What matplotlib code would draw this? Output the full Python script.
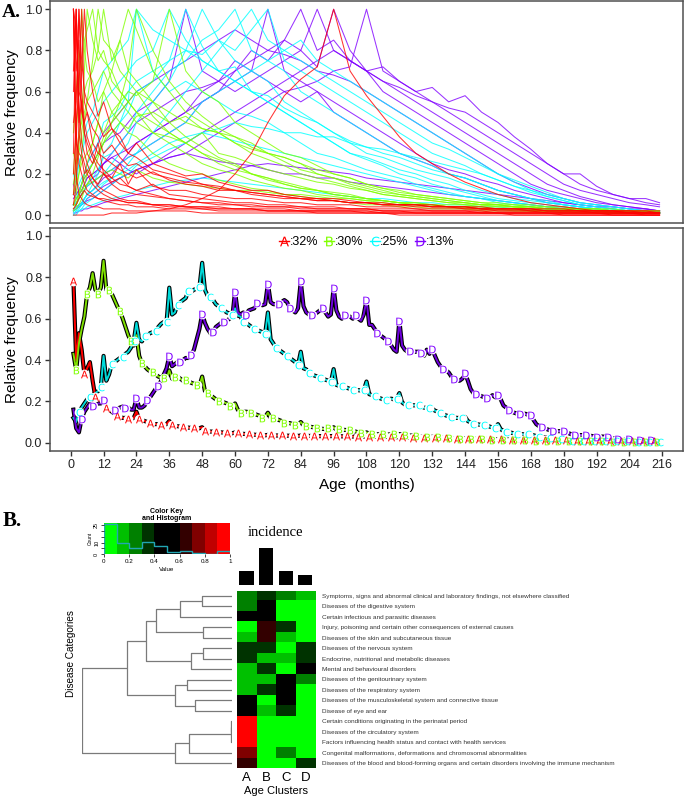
import numpy as np
import matplotlib
matplotlib.use("Agg")
import matplotlib.pyplot as plt
from matplotlib.colors import ListedColormap, BoundaryNorm
from matplotlib.lines import Line2D

plt.rcParams['font.family'] = ['Liberation Sans', 'DejaVu Sans']

W, H = 685, 797

# ---------------- Panel A (bottom): cluster mean curves, month 1..215, values in %
MEAN_A = [78, 40, 53, 45, 33, 36, 39, 30, 22, 21, 20, 21,
          17, 16, 15, 14, 13, 12.5, 12, 12, 11.5, 11.5, 12, 15,
          11.5, 11, 10.5, 10, 9.5, 9, 9, 9, 8.8, 8.8, 9, 10.5,
          8.5, 8.2, 8, 7.8, 7.5, 7.4, 7.3, 7.2, 7.2, 7, 7, 7.5,
          5.6, 5.5, 5.4, 5.4, 5.3, 5.1, 5, 4.9, 4.8, 4.7, 4.6, 5,
          4.5, 4.4, 4.3, 4.2, 4, 4, 3.9, 3.8, 3.7, 3.7, 3.6, 3.8,
          3.6, 3.6, 3.5, 3.5, 3.5, 3.5, 3.4, 3.4, 3.4, 3.4, 3.3, 3.5,
          3.3, 3.3, 3.3, 3.3, 3.2, 3.2, 3.2, 3.2, 3.2, 3.2, 3.2, 3.3,
          3.2, 3.2, 3.1, 3.1, 3.1, 3.1, 3, 3, 3, 3, 3, 3,
          3, 2.9, 2.9, 2.9, 2.9, 2.8, 2.8, 2.8, 2.8, 2.7, 2.7, 2.7,
          2.6, 2.6, 2.6, 2.5, 2.5, 2.5, 2.4, 2.4, 2.4, 2.3, 2.3, 2.3,
          2.2, 2.2, 2.2, 2.1, 2.1, 2.1, 2, 2, 2, 2, 2, 2,
          1.9, 1.9, 1.9, 1.9, 1.8, 1.8, 1.8, 1.8, 1.7, 1.7, 1.7, 1.7,
          1.6, 1.6, 1.6, 1.6, 1.5, 1.5, 1.5, 1.5, 1.4, 1.4, 1.4, 1.4,
          1.3, 1.3, 1.3, 1.3, 1.2, 1.2, 1.2, 1.2, 1.1, 1.1, 1.1, 1.1,
          1.1, 1, 1, 1, 1, 1, 1, 1, .9, .9, .9, .9,
          .9, .9, .8, .8, .8, .8, .8, .8, .8, .7, .7, .7,
          .7, .7, .7, .7, .6, .6, .6, .6, .6, .6, .6]
MEAN_B = [43, 35, 48, 55, 61, 72, 75, 82, 74, 72, 75, 88,
          74, 74, 72, 69, 66, 63.5, 60, 56, 52, 49, 47, 52,
          42, 38.5, 37, 35.5, 34.5, 34, 33, 32, 31.5, 31.5, 31, 35,
          31, 32, 32, 31, 30, 30.5, 30, 29, 28.5, 28, 27.5, 32,
          25, 24, 23, 22, 21, 20, 20, 19.5, 19, 17.6, 18, 19,
          16, 14.4, 15, 15, 14.8, 14.4, 14, 13.5, 13, 12, 12.5, 14.5,
          12, 12, 11.5, 11, 10.5, 9.6, 9.5, 9.5, 9, 8.8, 8.8, 10,
          8.5, 8, 7.8, 7.6, 7.4, 6.9, 6.8, 6.7, 6.6, 6.9, 6.6, 7.5,
          6.4, 6.4, 6.3, 6.2, 6.1, 6, 5.6, 5.4, 5, 4.8, 4.6, 5,
          4.4, 4.3, 4.2, 4.1, 4, 4, 4, 4, 4, 4, 4, 4.2,
          3.8, 3.7, 3.6, 3.5, 3.4, 3.2, 3, 2.9, 2.8, 2.7, 2.8, 2.9,
          2.9, 2.9, 2.7, 2.6, 2.5, 2.4, 2.3, 2.2, 2.1, 2, 2, 2.1,
          1.9, 1.8, 1.8, 1.7, 1.7, 1.6, 1.6, 1.5, 1.5, 1.5, 1.4, 1.5,
          1.4, 1.4, 1.3, 1.3, 1.3, 1.2, 1.2, 1.2, 1.1, 1.1, 1.1, 1.1,
          1, 1, 1, 1, 1, .9, .9, .9, .9, .9, .8, .8,
          .8, .8, .8, .8, .7, .7, .7, .7, .7, .7, .6, .6,
          .6, .6, .6, .6, .6, .5, .5, .5, .5, .5, .5, .5,
          .5, .5, .4, .4, .4, .4, .4, .4, .4, .4, .4]
MEAN_C = [12, 10, 15, 17, 19, 21, 22, 23, 24, 25, 27, 42,
          30, 33, 38, 39, 40, 41, 41.6, 43, 44, 46, 49, 58,
          50, 49, 51.7, 52, 53, 53.5, 54, 56, 57.5, 58.4, 58.4, 75,
          62, 63, 66.7, 68, 69, 70, 73.6, 73, 74, 74.5, 75.2, 87,
          74, 71, 70.4, 69, 67, 66, 65, 64, 63, 62.5, 62, 65,
          61.5, 61, 58.4, 58, 57, 56, 55.2, 54.5, 54, 53.5, 52.8, 63,
          50, 48, 45.6, 45, 44, 43, 42, 41, 40, 39, 37.6, 44,
          36, 35.5, 33.6, 33, 32.5, 32, 31.5, 31, 30.5, 30, 29.3, 35.6,
          28, 27.5, 27.2, 27, 26.5, 26, 25.6, 25.5, 25.4, 25.3, 25.3, 29.6,
          23.5, 23, 22.4, 22, 21.5, 21, 20.8, 21, 21.3, 21, 21.3, 24,
          19.5, 18.5, 18.1, 18.1, 18.1, 18.1, 18.1, 17.5, 17, 16.8, 16.8, 16.5,
          15.5, 15, 14.4, 13.8, 13.2, 12.8, 12.5, 12.2, 12, 12, 12, 12.5,
          10.5, 9.8, 9.3, 9, 8.8, 8.6, 8.5, 8.2, 7.8, 7.4, 7.2, 9,
          6.5, 5.8, 5.3, 5, 4.8, 4.5, 4.3, 4.2, 4.1, 4, 4, 4,
          3.6, 3.2, 2.9, 2.8, 2.6, 2.5, 2.4, 2.2, 2, 1.8, 1.6, 1.5,
          1.4, 1.2, 1, 1, 1, 1, 1, .9, .9, .9, .8, .8,
          .8, .8, .8, .7, .7, .7, .7, .7, .6, .6, .6, .6,
          .6, .6, .5, .5, .5, .5, .5, .5, .5, .5, .5]
MEAN_D = [16, 7, 5, 11.7, 15, 17, 19, 17.6, 18, 19, 19, 20.8,
          17, 16, 15.5, 15.7, 16.5, 17, 17.5, 16.8, 17, 16, 16, 21.6,
          17, 17, 18, 20.8, 22, 24, 26, 27.2, 30, 33, 36, 42,
          37, 38, 39, 38.9, 40, 41, 41, 42.4, 45, 50, 55, 62.4,
          58, 55, 53, 53.6, 56, 57, 58, 58.4, 59, 60, 61, 73,
          63, 62, 63, 62, 64, 64.5, 65, 67.7, 67, 66.5, 67, 77,
          68, 67, 67, 66.9, 68, 69, 68, 65, 64, 63, 65, 78,
          66, 63, 62, 62, 62, 63, 64, 65, 63, 61, 62, 75,
          64, 61, 60, 61.6, 61, 61, 60, 61.6, 60, 59, 62, 69,
          57, 57, 55, 53.3, 52, 51, 50, 49.1, 47, 45, 44, 59,
          47, 45, 44, 44.3, 44, 44, 44, 43.5, 42, 45, 43, 45.3,
          42, 39, 37, 35.7, 35, 34, 32, 30.9, 30, 30, 31, 33.6,
          30, 26, 24, 23.5, 23, 22.5, 22, 21.6, 22, 23, 22, 23.2,
          21, 18, 17, 16, 15, 14.5, 14, 13.9, 14, 14, 13.5, 13.3,
          11, 9, 8, 7.7, 7, 6.5, 6, 5.6, 5.6, 5.6, 5.6, 5.6,
          5, 4.5, 4, 3.7, 3.7, 3.7, 3.7, 3.7, 3.5, 3.3, 3.1, 3,
          3, 3, 2.9, 2.9, 2.5, 2.1, 1.8, 1.6, 1.6, 1.6, 1.6, 1.6,
          1.4, 1.2, 1.1, 1.1, 1.1, 1.1, 1.1, 1.1, 1.1, 1.1, 1.1]

CLUSTERS = ['A', 'B', 'C', 'D']
CLUSTER_SHARE = [':32%', ':30%', ':25%', ':13%']
RAINBOW4 = ['#FF0000', '#80FF00', '#00FFFF', '#8000FF']
LINE_COLORS = ['#FF0000', '#7FE000', '#00DADA', '#6E00DC']

# ---------------- Panel A (top): individual disease curves (values in %)
TOP_MONTHS = [1, 2, 3, 4, 5, 6, 8, 10, 12, 15, 18, 21, 24, 30, 36,
              42, 48, 54, 60, 66, 72, 78, 84, 90, 96, 102, 108, 114, 120, 126,
              132, 138, 144, 150, 156, 162, 168, 174, 180, 186, 192, 198, 204, 210, 215]

TOP_A = [
    [100, 40, 25, 20, 15, 12, 10, 8, 7, 6, 5, 5, 4, 4, 3, 3, 3, 2, 2, 2, 2, 2, 2, 1, 1, 1, 1, 1, 1, 1, 1, 1, 1, 1, 1, 0, 0, 0, 0, 0, 0, 0, 0, 0, 0],
    [60, 100, 55, 35, 30, 25, 18, 14, 12, 10, 8, 7, 7, 5, 5, 4, 4, 3, 3, 3, 2, 2, 2, 2, 2, 2, 1, 1, 1, 1, 1, 1, 1, 1, 1, 1, 1, 1, 0, 0, 0, 0, 0, 0, 0],
    [100, 70, 85, 50, 45, 38, 30, 25, 22, 18, 15, 14, 12, 10, 8, 7, 6, 5, 5, 4, 4, 4, 3, 3, 3, 3, 3, 2, 2, 2, 2, 2, 2, 2, 1, 1, 1, 1, 1, 1, 1, 1, 1, 1, 1],
    [30, 100, 60, 55, 40, 35, 28, 22, 20, 15, 12, 11, 10, 9, 8, 7, 6, 6, 5, 5, 4, 4, 4, 3, 3, 3, 3, 2, 2, 2, 2, 2, 2, 1, 1, 1, 1, 1, 1, 1, 1, 1, 1, 0, 0],
    [100, 20, 10, 8, 6, 5, 4, 4, 3, 3, 3, 2, 2, 2, 2, 2, 1, 1, 1, 1, 1, 1, 1, 1, 1, 1, 1, 1, 0, 0, 0, 0, 0, 0, 0, 0, 0, 0, 0, 0, 0, 0, 0, 0, 0],
    [45, 55, 100, 60, 45, 50, 35, 30, 28, 25, 22, 20, 18, 21, 17, 15, 14, 12, 12, 10, 9, 8, 8, 7, 7, 6, 6, 5, 5, 5, 4, 4, 4, 3, 3, 3, 3, 2, 2, 2, 2, 2, 2, 1, 1],
    [100, 90, 45, 55, 40, 30, 25, 35, 20, 18, 25, 15, 22, 14, 12, 12, 10, 9, 8, 8, 7, 6, 6, 5, 5, 5, 4, 4, 4, 3, 3, 3, 3, 3, 2, 2, 2, 2, 2, 2, 1, 1, 1, 1, 1],
    [10, 30, 100, 75, 60, 55, 50, 45, 38, 42, 35, 30, 28, 22, 20, 18, 15, 14, 12, 11, 10, 9, 8, 8, 7, 6, 6, 5, 5, 5, 4, 4, 4, 3, 3, 3, 3, 2, 2, 2, 2, 2, 2, 2, 1],
    [5, 15, 40, 70, 100, 80, 60, 48, 55, 42, 38, 30, 35, 25, 22, 19, 20, 16, 14, 12, 12, 10, 9, 8, 8, 7, 6, 6, 5, 5, 5, 4, 4, 4, 3, 3, 3, 3, 3, 2, 2, 2, 2, 2, 2],
    [0, 0, 0, 0, 0, 0, 0, 0, 0, 1, 1, 1, 1, 2, 3, 5, 8, 12, 20, 30, 45, 58, 66, 72, 100, 70, 58, 48, 38, 30, 25, 20, 16, 13, 10, 8, 6, 5, 4, 3, 2, 2, 1, 1, 1],
    [100, 35, 30, 28, 20, 22, 18, 15, 20, 16, 18, 14, 12, 15, 10, 9, 8, 7, 6, 6, 5, 5, 4, 4, 4, 3, 3, 3, 3, 3, 2, 2, 2, 2, 2, 2, 2, 1, 1, 1, 1, 1, 1, 1, 1],
    [70, 100, 40, 30, 25, 20, 15, 12, 10, 8, 7, 6, 6, 5, 4, 4, 3, 3, 3, 3, 2, 2, 2, 2, 2, 2, 2, 1, 1, 1, 1, 1, 1, 1, 1, 1, 1, 1, 1, 1, 1, 0, 0, 0, 0],
    [3, 5, 8, 10, 12, 10, 9, 8, 8, 7, 7, 6, 6, 5, 5, 4, 4, 4, 3, 3, 3, 3, 2, 2, 2, 2, 2, 2, 2, 1, 1, 1, 1, 1, 1, 1, 1, 1, 1, 1, 1, 1, 1, 1, 1],
    [20, 45, 60, 100, 55, 50, 42, 38, 30, 34, 28, 24, 25, 20, 18, 16, 15, 13, 12, 11, 10, 9, 8, 7, 7, 6, 6, 5, 5, 4, 4, 4, 3, 3, 3, 3, 2, 2, 2, 2, 2, 2, 1, 1, 1],
]
TOP_B = [
    [20, 40, 60, 100, 80, 70, 65, 55, 60, 50, 45, 40, 38, 30, 25, 22, 20, 17, 15, 13, 12, 10, 9, 8, 7, 6, 5, 5, 4, 4, 3, 3, 3, 2, 2, 2, 2, 2, 1, 1, 1, 1, 1, 1, 1],
    [10, 20, 35, 50, 70, 100, 85, 75, 80, 65, 60, 55, 50, 40, 35, 30, 25, 22, 20, 17, 15, 13, 12, 10, 9, 8, 7, 6, 5, 5, 4, 4, 3, 3, 3, 2, 2, 2, 2, 1, 1, 1, 1, 1, 1],
    [5, 10, 20, 30, 45, 55, 75, 100, 85, 80, 70, 65, 60, 48, 40, 35, 30, 27, 24, 20, 18, 15, 13, 12, 10, 9, 8, 7, 6, 5, 5, 4, 4, 3, 3, 3, 2, 2, 2, 2, 1, 1, 1, 1, 1],
    [30, 25, 40, 45, 60, 65, 70, 80, 100, 75, 85, 70, 65, 55, 45, 38, 33, 28, 25, 20, 18, 16, 14, 12, 11, 10, 8, 7, 6, 6, 5, 4, 4, 4, 3, 3, 3, 2, 2, 2, 2, 1, 1, 1, 1],
    [5, 5, 10, 15, 20, 25, 35, 45, 60, 70, 85, 100, 90, 70, 60, 50, 45, 40, 35, 30, 27, 24, 20, 18, 16, 14, 12, 10, 9, 8, 7, 6, 5, 5, 4, 4, 3, 3, 3, 2, 2, 2, 2, 1, 1],
    [2, 3, 5, 8, 12, 15, 20, 28, 35, 45, 55, 70, 100, 80, 65, 55, 48, 42, 38, 33, 30, 26, 22, 20, 18, 15, 13, 11, 10, 9, 8, 7, 6, 5, 5, 4, 4, 3, 3, 3, 2, 2, 2, 2, 1],
    [40, 60, 80, 70, 85, 90, 100, 80, 75, 70, 60, 55, 50, 45, 40, 35, 30, 25, 22, 20, 17, 15, 13, 12, 10, 9, 8, 7, 6, 5, 5, 4, 4, 3, 3, 3, 2, 2, 2, 2, 1, 1, 1, 1, 1],
    [5, 5, 10, 15, 18, 20, 25, 30, 35, 40, 45, 42, 48, 50, 45, 48, 42, 40, 38, 35, 30, 28, 25, 20, 18, 16, 14, 12, 10, 9, 8, 7, 6, 5, 5, 4, 4, 3, 3, 3, 2, 2, 2, 2, 1],
    [10, 15, 20, 25, 28, 30, 35, 45, 40, 50, 55, 60, 58, 65, 100, 70, 60, 55, 45, 40, 35, 30, 28, 24, 20, 18, 15, 13, 11, 10, 9, 8, 7, 6, 5, 5, 4, 4, 3, 3, 3, 2, 2, 2, 2],
    [5, 8, 10, 12, 14, 15, 16, 18, 20, 22, 20, 18, 22, 18, 16, 15, 14, 13, 12, 12, 11, 10, 10, 9, 8, 8, 7, 7, 6, 6, 5, 5, 5, 4, 4, 4, 3, 3, 3, 3, 2, 2, 2, 2, 2],
    [15, 25, 30, 40, 50, 55, 60, 65, 70, 60, 55, 50, 45, 40, 38, 35, 40, 30, 28, 25, 22, 20, 18, 16, 15, 13, 12, 10, 9, 8, 7, 6, 6, 5, 5, 4, 4, 3, 3, 3, 3, 2, 2, 2, 2],
    [3, 5, 8, 10, 15, 20, 25, 30, 38, 45, 50, 55, 60, 55, 50, 45, 42, 40, 35, 32, 30, 28, 25, 22, 20, 18, 15, 13, 12, 10, 9, 8, 7, 6, 6, 5, 5, 4, 4, 3, 3, 3, 2, 2, 2],
]
TOP_C = [
    [2, 3, 5, 5, 8, 10, 12, 15, 20, 25, 30, 35, 45, 55, 65, 80, 100, 85, 75, 70, 65, 55, 50, 45, 40, 35, 30, 28, 25, 22, 20, 18, 15, 12, 10, 8, 7, 6, 5, 4, 3, 2, 2, 1, 1],
    [5, 5, 8, 10, 12, 15, 18, 22, 28, 30, 35, 40, 50, 60, 70, 75, 85, 90, 100, 80, 75, 70, 60, 55, 50, 45, 40, 35, 30, 27, 24, 20, 18, 15, 12, 10, 8, 6, 5, 4, 3, 2, 2, 1, 1],
    [10, 12, 15, 18, 20, 22, 25, 30, 35, 40, 45, 50, 60, 65, 75, 80, 78, 85, 80, 90, 100, 75, 70, 65, 60, 55, 50, 45, 40, 35, 30, 27, 24, 20, 17, 14, 11, 9, 7, 5, 4, 3, 2, 2, 1],
    [0, 2, 3, 5, 8, 10, 15, 20, 30, 35, 45, 55, 100, 70, 60, 65, 60, 55, 50, 48, 45, 40, 35, 30, 28, 25, 22, 20, 18, 15, 13, 11, 9, 8, 6, 5, 4, 3, 3, 2, 2, 1, 1, 1, 1],
    [20, 15, 25, 30, 35, 40, 45, 50, 55, 60, 65, 70, 75, 80, 100, 85, 75, 70, 65, 60, 55, 50, 45, 40, 35, 30, 28, 25, 22, 20, 17, 15, 12, 10, 8, 7, 6, 5, 4, 3, 2, 2, 1, 1, 1],
    [5, 6, 8, 10, 12, 14, 16, 18, 20, 22, 25, 28, 30, 35, 40, 45, 55, 60, 65, 70, 75, 80, 85, 75, 70, 65, 60, 55, 50, 45, 40, 35, 30, 25, 20, 16, 12, 9, 7, 5, 4, 3, 2, 2, 1],
    [3, 4, 5, 6, 8, 10, 12, 14, 16, 18, 20, 22, 25, 30, 35, 38, 40, 42, 45, 43, 42, 40, 40, 38, 38, 35, 33, 32, 30, 28, 26, 24, 22, 20, 17, 14, 12, 10, 8, 6, 5, 4, 3, 2, 2],
    [0, 0, 2, 3, 5, 6, 8, 10, 12, 15, 18, 20, 24, 28, 32, 35, 40, 38, 36, 34, 32, 30, 28, 26, 24, 22, 20, 18, 16, 14, 12, 10, 9, 8, 7, 6, 5, 4, 3, 3, 2, 2, 1, 1, 1],
    [15, 20, 25, 30, 40, 45, 50, 60, 70, 75, 80, 85, 100, 90, 85, 80, 75, 70, 65, 60, 55, 50, 45, 40, 35, 30, 27, 24, 20, 18, 15, 13, 11, 9, 7, 6, 5, 4, 3, 2, 2, 1, 1, 1, 1],
    [2, 3, 4, 5, 6, 8, 10, 12, 15, 18, 20, 25, 30, 40, 50, 60, 70, 80, 90, 100, 85, 80, 75, 70, 65, 60, 55, 50, 45, 40, 35, 32, 28, 24, 20, 17, 14, 11, 8, 6, 5, 4, 3, 2, 1],
    [1, 2, 2, 3, 3, 4, 5, 6, 7, 8, 9, 10, 12, 14, 16, 17, 18, 17, 16, 15, 14, 13, 12, 11, 10, 9, 8, 8, 7, 6, 6, 5, 5, 4, 4, 3, 3, 3, 2, 2, 2, 2, 1, 1, 1],
    [5, 8, 12, 15, 20, 25, 30, 35, 45, 48, 52, 60, 65, 70, 75, 100, 82, 70, 72, 60, 58, 52, 48, 45, 40, 36, 33, 30, 28, 25, 22, 20, 18, 15, 12, 10, 8, 7, 5, 4, 3, 3, 2, 2, 1],
]
TOP_D = [
    [5, 5, 8, 10, 12, 14, 16, 18, 20, 22, 25, 28, 30, 35, 40, 45, 55, 60, 70, 75, 80, 85, 100, 80, 85, 75, 70, 65, 60, 55, 50, 45, 40, 35, 30, 25, 20, 15, 12, 9, 7, 5, 4, 3, 2],
    [10, 8, 10, 12, 15, 18, 20, 22, 25, 28, 30, 32, 35, 40, 45, 50, 60, 65, 70, 80, 75, 85, 80, 100, 80, 75, 70, 65, 62, 58, 55, 52, 50, 45, 40, 35, 30, 25, 20, 15, 12, 10, 8, 6, 5],
    [2, 3, 4, 5, 6, 7, 8, 10, 12, 15, 18, 20, 22, 25, 30, 35, 40, 45, 50, 55, 60, 65, 70, 75, 80, 75, 70, 72, 65, 60, 62, 55, 58, 50, 45, 38, 32, 25, 20, 20, 14, 10, 8, 8, 6],
    [15, 10, 12, 15, 18, 20, 25, 30, 35, 38, 40, 45, 50, 55, 65, 100, 70, 65, 75, 70, 65, 60, 55, 60, 50, 45, 40, 35, 30, 27, 24, 20, 18, 15, 12, 10, 8, 6, 5, 4, 3, 2, 2, 1, 1],
    [3, 4, 5, 6, 8, 10, 12, 15, 18, 20, 25, 30, 35, 40, 45, 50, 55, 60, 65, 70, 100, 70, 65, 60, 55, 50, 45, 40, 35, 30, 25, 22, 20, 17, 15, 12, 10, 8, 6, 5, 4, 3, 2, 2, 1],
    [5, 6, 8, 10, 12, 15, 18, 20, 25, 30, 35, 40, 45, 50, 55, 60, 62, 65, 60, 65, 70, 75, 80, 72, 100, 80, 70, 60, 55, 50, 45, 40, 35, 30, 25, 20, 15, 12, 10, 8, 6, 5, 4, 3, 2],
    [2, 3, 4, 5, 6, 8, 10, 12, 14, 16, 18, 20, 22, 25, 28, 30, 35, 40, 45, 50, 55, 60, 62, 65, 70, 72, 100, 70, 65, 60, 55, 50, 45, 40, 35, 30, 25, 20, 15, 12, 10, 8, 6, 5, 4],
    [5, 8, 10, 12, 15, 18, 20, 22, 25, 28, 25, 22, 20, 25, 28, 30, 28, 26, 25, 24, 22, 20, 20, 18, 18, 16, 15, 14, 13, 12, 11, 10, 9, 8, 7, 6, 5, 4, 4, 3, 3, 2, 2, 2, 1],
    [8, 10, 12, 15, 20, 25, 30, 35, 40, 45, 50, 55, 60, 65, 70, 75, 80, 85, 90, 85, 80, 78, 75, 70, 68, 65, 60, 55, 50, 45, 40, 35, 30, 25, 20, 16, 13, 10, 8, 6, 5, 4, 3, 2, 2],
    [1, 1, 2, 2, 3, 3, 4, 5, 6, 7, 8, 9, 10, 12, 14, 16, 18, 20, 22, 24, 25, 24, 23, 22, 21, 20, 18, 17, 16, 15, 14, 13, 12, 11, 10, 9, 8, 7, 6, 5, 4, 4, 3, 3, 2],
]

# ---------------- Panel B: heatmap of disease categories x age clusters
CATEGORIES = [
    'Symptoms, signs and abnormal clinical and laboratory findings, not elsewhere classified',
    'Diseases of the digestive system',
    'Certain infectious and parasitic diseases',
    'Injury, poisoning and certain other consequences of external causes',
    'Diseases of the skin and subcutaneous tissue',
    'Diseases of the nervous system',
    'Endocrine, nutritional and metabolic diseases',
    'Mental and behavioural disorders',
    'Diseases of the genitourinary system',
    'Diseases of the respiratory system',
    'Diseases of the musculoskeletal system and connective tissue',
    'Disease of eye and ear',
    'Certain conditions originating in the perinatal period',
    'Diseases of the circulatory system',
    'Factors influencing health status and contact with health services',
    'Congenital malformations, deformations and chromosomal abnormalities',
    'Diseases of the blood and blood-forming organs and certain disorders involving the immune mechanism',
]
HEAT_A = [0.27, 0.24, 0.55, 0.04, 0.14, 0.33, 0.36, 0.16, 0.13, 0.17, 0.53, 0.45, 0.97, 0.95, 0.93, 0.76, 0.66]
HEAT_B = [0.36, 0.44, 0.47, 0.64, 0.63, 0.34, 0.15, 0.37, 0.14, 0.33, 0.03, 0.16, 0.02, 0.03, 0.04, 0.05, 0.06]
HEAT_C = [0.26, 0.06, 0.03, 0.35, 0.17, 0.05, 0.13, 0.07, 0.46, 0.43, 0.48, 0.36, 0.02, 0.05, 0.03, 0.24, 0.08]
HEAT_D = [0.15, 0.02, 0.04, 0.06, 0.08, 0.34, 0.32, 0.44, 0.25, 0.09, 0.05, 0.07, 0.01, 0.03, 0.06, 0.04, 0.35]
INCIDENCE = [0.38, 1.0, 0.38, 0.27]
KEY_COLORS = ['#00FF00', '#00C000', '#008000', '#003300', '#000000',
              '#000000', '#330000', '#800000', '#C00000', '#FF0000']
# row dendrogram merges: (left, right, height); ids >= 17 are earlier merges
DENDRO_MERGES = [(0, 1, 88), (17, 2, 155), (3, 4, 85), (18, 19, 227), (5, 6, 87),
                 (21, 7, 122), (20, 22, 257), (8, 9, 134), (10, 11, 110), (24, 25, 172),
                 (23, 26, 315), (12, 13, 1), (28, 14, 3), (29, 15, 130), (30, 16, 172),
                 (27, 31, 450)]


def px_box(x0, y0, x1, y1):
    """pixel box (top-left origin) -> figure rect"""
    return [x0 / W, 1 - y1 / H, (x1 - x0) / W, (y1 - y0) / H]


fig = plt.figure(figsize=(W / 100, H / 100), dpi=100)
fig.patch.set_facecolor('white')

XLIM = (-7.56, 223.56)
YLIM = (-0.04, 1.04)
SPINE = '#505050'

# ---- top: spaghetti plot
ax1 = fig.add_axes(px_box(50, 1, 683, 223.3))
for grp, col in [(TOP_D, RAINBOW4[3]), (TOP_C, RAINBOW4[2]), (TOP_B, RAINBOW4[1]), (TOP_A, RAINBOW4[0])]:
    for row in grp:
        ax1.plot(TOP_MONTHS, np.array(row) / 100, color=col, lw=0.75, alpha=0.8)
ax1.set_xlim(XLIM)
ax1.set_ylim(YLIM)
ax1.set_xticks([])
ax1.set_yticks(np.arange(0, 1.01, 0.2))
ax1.set_yticklabels(['%.1f' % v for v in np.arange(0, 1.01, 0.2)])
ax1.set_ylabel('Relative frequency', fontsize=11, labelpad=4)

# ---- middle: cluster means with letter markers every 4 months
ax2 = fig.add_axes(px_box(50, 227.7, 683, 451))
months = np.arange(1, 216)
means = [np.array(m) / 100 for m in (MEAN_A, MEAN_B, MEAN_C, MEAN_D)]
for k, v in enumerate(means):
    ax2.plot(months, v, color='black', lw=3.0, zorder=2, solid_joinstyle='round')
    ax2.plot(months, v, color=LINE_COLORS[k], lw=1.4, zorder=3, solid_joinstyle='round')
for k, v in enumerate(means):
    mk = np.arange(k + 1, 216, 4)
    ax2.plot(mk, v[mk - 1], ls='none', marker='o', ms=7, mfc='white', mec='none', zorder=4)
for k, v in enumerate(means):
    mk = np.arange(k + 1, 216, 4)
    ax2.plot(mk, v[mk - 1], ls='none', marker=r'$\mathsf{%s}$' % CLUSTERS[k],
             ms=5.5, color=RAINBOW4[k], mew=0, zorder=5)
ax2.set_xlim(XLIM)
ax2.set_ylim(YLIM)
ax2.set_xticks(np.arange(0, 217, 12))
ax2.set_yticks(np.arange(0, 1.01, 0.2))
ax2.set_yticklabels(['%.1f' % v for v in np.arange(0, 1.01, 0.2)])
ax2.set_ylabel('Relative frequency', fontsize=11, labelpad=4)
ax2.set_xlabel('Age  (months)', fontsize=11, labelpad=5)

handles = [Line2D([0], [0], color=RAINBOW4[k], lw=1.0,
                  marker=r'$\mathsf{%s}$' % c, markersize=7, markeredgewidth=0)
           for k, c in enumerate(CLUSTERS)]
ax2.legend(handles, CLUSTER_SHARE, loc='upper center', ncol=4, frameon=False,
           fontsize=9, handlelength=0.8, handletextpad=0.05, columnspacing=0.5,
           borderaxespad=0.3)

for ax in (ax1, ax2):
    for sp in ax.spines.values():
        sp.set_color(SPINE)
        sp.set_linewidth(1.1)
    ax.tick_params(direction='out', length=3.5, width=1, color='#333333',
                   labelsize=9, pad=2, labelcolor='#222222')

fig.text(2 / W, 1 - 17 / H, 'A.', fontsize=14, fontweight='bold',
         family='Liberation Serif', va='baseline')
fig.text(3 / W, 1 - 526 / H, 'B.', fontsize=15, fontweight='bold',
         family='Liberation Serif', va='baseline')

# ---- panel B
heat = np.column_stack([HEAT_A, HEAT_B, HEAT_C, HEAT_D])
edges = np.linspace(0, 1, 11)
cmap = ListedColormap(KEY_COLORS)
norm = BoundaryNorm(edges, cmap.N)

# colour key with histogram
axk = fig.add_axes(px_box(104, 522.7, 230, 554.3))
counts, _ = np.histogram(heat.ravel(), bins=edges)
axk.imshow(np.arange(10)[None, :], cmap=cmap, extent=(0, 1, 0, 27.2),
           aspect='auto', interpolation='nearest')
axk.stairs(counts, edges, color='#22A6B3', lw=1.0)
axk.set_xlim(0, 1)
axk.set_ylim(0, 27.2)
axk.set_xticks(np.arange(0, 1.01, 0.2))
axk.set_xticklabels(['0', '0.2', '0.4', '0.6', '0.8', '1'], fontsize=4.5)
axk.set_yticks([0, 5, 10, 15, 20, 25])
axk.set_yticklabels(['0', '', '10', '', '', '25'], fontsize=4, rotation=90, va='center')
axk.tick_params(length=2, width=0.5, pad=1.5)
axk.set_xlabel('Value', fontsize=4.5, labelpad=2)
axk.set_ylabel('Count', fontsize=3.5, labelpad=1)
for sp in axk.spines.values():
    sp.set_visible(False)
fig.text(167 / W, 1 - 515 / H, 'Color Key\nand Histogram', fontsize=5,
         fontweight='bold', ha='center', va='center', linespacing=1.1)

# incidence bars
axi = fig.add_axes(px_box(236.7, 548, 315, 585))
axi.bar(np.arange(4), INCIDENCE, width=0.72, color='black')
axi.set_xlim(-0.5, 3.5)
axi.set_ylim(0, 1)
axi.axis('off')
fig.text(275.5 / W, 1 - 532 / H, 'incidence', fontsize=10.5,
         family='Liberation Serif', ha='center', va='center')

# heatmap
axh = fig.add_axes(px_box(236.7, 590.7, 315, 768.3))
axh.imshow(heat, cmap=cmap, norm=norm, aspect='auto', interpolation='nearest')
axh.set_xticks(np.arange(4))
axh.set_xticklabels(CLUSTERS, fontsize=9.5)
axh.set_yticks(np.arange(len(CATEGORIES)))
axh.set_yticklabels(CATEGORIES, fontsize=4.6, color='#333333')
axh.yaxis.tick_right()
axh.tick_params(length=0, pad=5)
axh.tick_params(axis='x', pad=3)
axh.set_xlabel('Age Clusters', fontsize=8, labelpad=1)
for sp in axh.spines.values():
    sp.set_visible(False)

# row dendrogram
axd = fig.add_axes(px_box(81.7, 590.7, 231.7, 768.3))
pos = {i: float(i) for i in range(len(CATEGORIES))}
hgt = {i: 0.0 for i in range(len(CATEGORIES))}
for j, (l, r, h) in enumerate(DENDRO_MERGES):
    node = len(CATEGORIES) + j
    axd.plot([hgt[l], h, h, hgt[r]], [pos[l], pos[l], pos[r], pos[r]],
             color='#7a7a7a', lw=0.9, solid_capstyle='butt')
    pos[node] = (pos[l] + pos[r]) / 2
    hgt[node] = h
axd.set_xlim(452, 0)
axd.set_ylim(len(CATEGORIES) - 0.5, -0.5)
axd.axis('off')
fig.text(71 / W, 1 - 654 / H, 'Disease Categories', fontsize=7.2,
         rotation=90, ha='center', va='center')

fig.savefig('out.png', dpi=100)
